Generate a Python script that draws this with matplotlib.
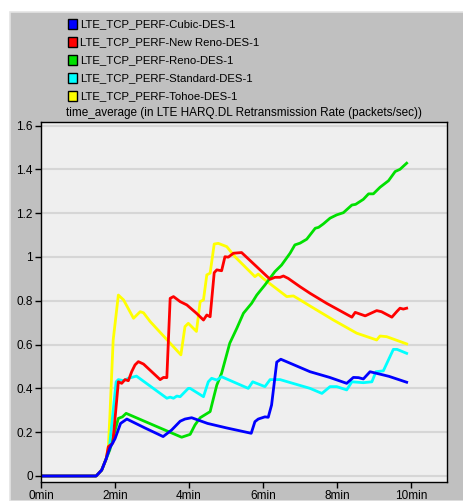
import matplotlib
matplotlib.use('Agg')
import matplotlib.pyplot as plt
from matplotlib.patches import Rectangle

# ..series (time in minutes, value in packets/sec)..
labels = ['LTE_TCP_PERF-Cubic-DES-1', 'LTE_TCP_PERF-New Reno-DES-1', 'LTE_TCP_PERF-Reno-DES-1',
          'LTE_TCP_PERF-Standard-DES-1', 'LTE_TCP_PERF-Tohoe-DES-1']
colors = ['#0000ff', '#ff0000', '#00e000', '#00ffff', '#ffff00']

cubic_t = [0, 1.49, 1.64, 1.76, 1.86, 2.0, 2.15, 2.32, 2.8, 3.3, 3.53, 3.76, 3.89, 4.07, 4.5, 5.0,
           5.68, 5.78, 5.87, 6.05, 6.14, 6.23, 6.37, 6.48, 7.27, 7.8, 8.26, 8.44, 8.58, 8.71, 8.89, 9.4, 9.88]
cubic_v = [0, 0, 0.027, 0.078, 0.128, 0.17, 0.24, 0.26, 0.22, 0.18, 0.21, 0.25, 0.26, 0.266, 0.24, 0.22,
           0.195, 0.248, 0.26, 0.27, 0.268, 0.324, 0.52, 0.533, 0.476, 0.45, 0.423, 0.45, 0.449, 0.443, 0.476, 0.455, 0.428]

newreno_t = [0, 1.49, 1.64, 1.76, 1.82, 1.94, 2.09, 2.18, 2.27, 2.36, 2.45, 2.54, 2.63, 2.77, 3.22,
             3.31, 3.4, 3.49, 3.58, 3.76, 3.94, 4.2, 4.39, 4.48, 4.57, 4.68, 4.75, 4.88, 4.97, 5.06,
             5.2, 5.42, 6.19, 6.32, 6.46, 6.55, 6.68, 7.0, 7.27, 7.72, 8.4, 8.49, 8.76, 9.07, 9.2, 9.48,
             9.61, 9.7, 9.79, 9.88]
newreno_v = [0, 0, 0.027, 0.078, 0.134, 0.15, 0.43, 0.423, 0.44, 0.435, 0.476, 0.507, 0.522, 0.511, 0.44,
             0.45, 0.449, 0.811, 0.819, 0.796, 0.781, 0.743, 0.712, 0.735, 0.727, 0.928, 0.941, 0.937, 1.001, 0.999,
             1.017, 1.02, 0.898, 0.907, 0.907, 0.913, 0.902, 0.864, 0.834, 0.788, 0.725, 0.747, 0.731, 0.755, 0.75, 0.725,
             0.75, 0.766, 0.762, 0.766]

reno_t = [0, 1.49, 1.64, 1.76, 1.86, 2.09, 2.2, 2.3, 3.0, 3.8, 4.03, 4.16, 4.3, 4.57, 4.66, 4.75, 4.88,
          5.1, 5.29, 5.47, 5.69, 5.83, 6.05, 6.32, 6.5, 6.73, 6.86, 7.0, 7.18, 7.41, 7.5, 7.63, 7.81,
          7.99, 8.17, 8.4, 8.5, 8.71, 8.85, 8.98, 9.16, 9.39, 9.57, 9.7, 9.88]
reno_v = [0, 0, 0.027, 0.078, 0.12, 0.263, 0.27, 0.286, 0.235, 0.177, 0.19, 0.233, 0.266, 0.294, 0.355, 0.415, 0.469,
          0.606, 0.674, 0.743, 0.788, 0.826, 0.872, 0.933, 0.963, 1.017, 1.055, 1.063, 1.081, 1.131, 1.135, 1.151, 1.177,
          1.192, 1.202, 1.237, 1.24, 1.263, 1.288, 1.288, 1.318, 1.348, 1.39, 1.4, 1.428]

standard_t = [0, 1.49, 1.64, 1.76, 1.85, 2.03, 2.09, 2.23, 2.36, 2.58, 3.4, 3.49, 3.58, 3.67, 3.76,
              3.98, 4.03, 4.39, 4.52, 4.61, 4.75, 4.88, 5.6, 5.72, 6.05, 6.19, 6.46, 7.27, 7.59, 7.81,
              7.99, 8.26, 8.4, 8.71, 8.94, 9.05, 9.25, 9.52, 9.62, 9.88]
standard_v = [0, 0, 0.027, 0.078, 0.134, 0.43, 0.44, 0.435, 0.446, 0.456, 0.355, 0.36, 0.355, 0.365, 0.362,
              0.4, 0.4, 0.362, 0.43, 0.446, 0.438, 0.453, 0.4, 0.43, 0.408, 0.44, 0.44, 0.40, 0.377, 0.408,
              0.408, 0.393, 0.43, 0.426, 0.43, 0.476, 0.48, 0.578, 0.578, 0.56]

tohoe_t = [0, 1.49, 1.64, 1.76, 1.82, 1.86, 1.95, 2.09, 2.23, 2.5, 2.68, 2.77, 2.95, 3.78, 3.89, 3.98,
           4.2, 4.3, 4.39, 4.48, 4.57, 4.68, 4.79, 5.02, 5.24, 5.78, 5.87, 6.0, 6.64, 6.82, 7.0, 7.27,
           7.9, 8.53, 9.07, 9.16, 9.34, 9.88]
tohoe_v = [0, 0, 0.027, 0.078, 0.134, 0.27, 0.62, 0.826, 0.804, 0.72, 0.75, 0.745, 0.705, 0.553, 0.682, 0.697,
           0.66, 0.796, 0.804, 0.918, 0.926, 1.059, 1.062, 1.047, 1.001, 0.91, 0.922, 0.902, 0.819, 0.822, 0.804, 0.776,
           0.712, 0.652, 0.621, 0.639, 0.636, 0.603]

yticks = [0, 0.2, 0.4, 0.6, 0.8, 1.0, 1.2, 1.4, 1.6]
ytick_labels = ['0', '0.2', '0.4', '0.6', '0.8', '1', '1.2', '1.4', '1.6']
xticks = [0, 2, 4, 6, 8, 10]
xtick_labels = ['0min', '2min', '4min', '6min', '8min', '10min']
title = 'time_average (in LTE HARQ.DL Retransmission Rate (packets/sec))'

plt.rcParams['font.family'] = ['Liberation Sans', 'DejaVu Sans']

W, H = 463, 501
fig = plt.figure(figsize=(W / 100, H / 100), dpi=100)
fig.patch.set_facecolor('white')

# ..gray panel behind everything..
fig.patches.append(Rectangle((10 / W, 0), 1, 1 - 12 / H, transform=fig.transFigure,
                             facecolor='#c0c0c0', edgecolor='#e4e4e4', linewidth=1.2, zorder=-10))

ax = fig.add_axes([41 / W, 1 - 482 / H, (447 - 41) / W, (482 - 122) / H])
ax.set_facecolor('#efefef')

series = [
    (tohoe_t, tohoe_v, colors[4]),
    (reno_t, reno_v, colors[2]),
    (standard_t, standard_v, colors[3]),
    (newreno_t, newreno_v, colors[1]),
    (cubic_t, cubic_v, colors[0]),
]
for t, v, c in series:
    ax.plot(t, v, color=c, linewidth=2)

ax.set_xlim(0, 10.97)
ax.set_ylim(-0.0274, 1.616)
ax.set_yticks(yticks)
ax.set_yticklabels(ytick_labels)
ax.set_xticks(xticks)
ax.set_xticklabels(xtick_labels)
ax.tick_params(direction='out', length=4, width=1, colors='black', labelsize=8.5, pad=2)
ax.grid(axis='y', color='#d6d6d6', linewidth=1.5)
ax.set_axisbelow(True)
for s in ax.spines.values():
    s.set_color('black')
    s.set_linewidth(1)

fig.text(244 / W, 1 - 113 / H, title, ha='center', va='center', fontsize=8.5)

# ..legend: colored squares with black border..
rows = [24, 42, 60, 78, 96]
for lab, c, y in zip(labels, colors, rows):
    fig.patches.append(Rectangle((68 / W, 1 - (y + 4.5) / H), 9 / W, 9 / H, transform=fig.transFigure,
                                 facecolor=c, edgecolor='black', linewidth=1))
    fig.text(80 / W, 1 - y / H, lab, ha='left', va='center', fontsize=8.2)

fig.savefig('out.png', dpi=100, facecolor=fig.get_facecolor())
